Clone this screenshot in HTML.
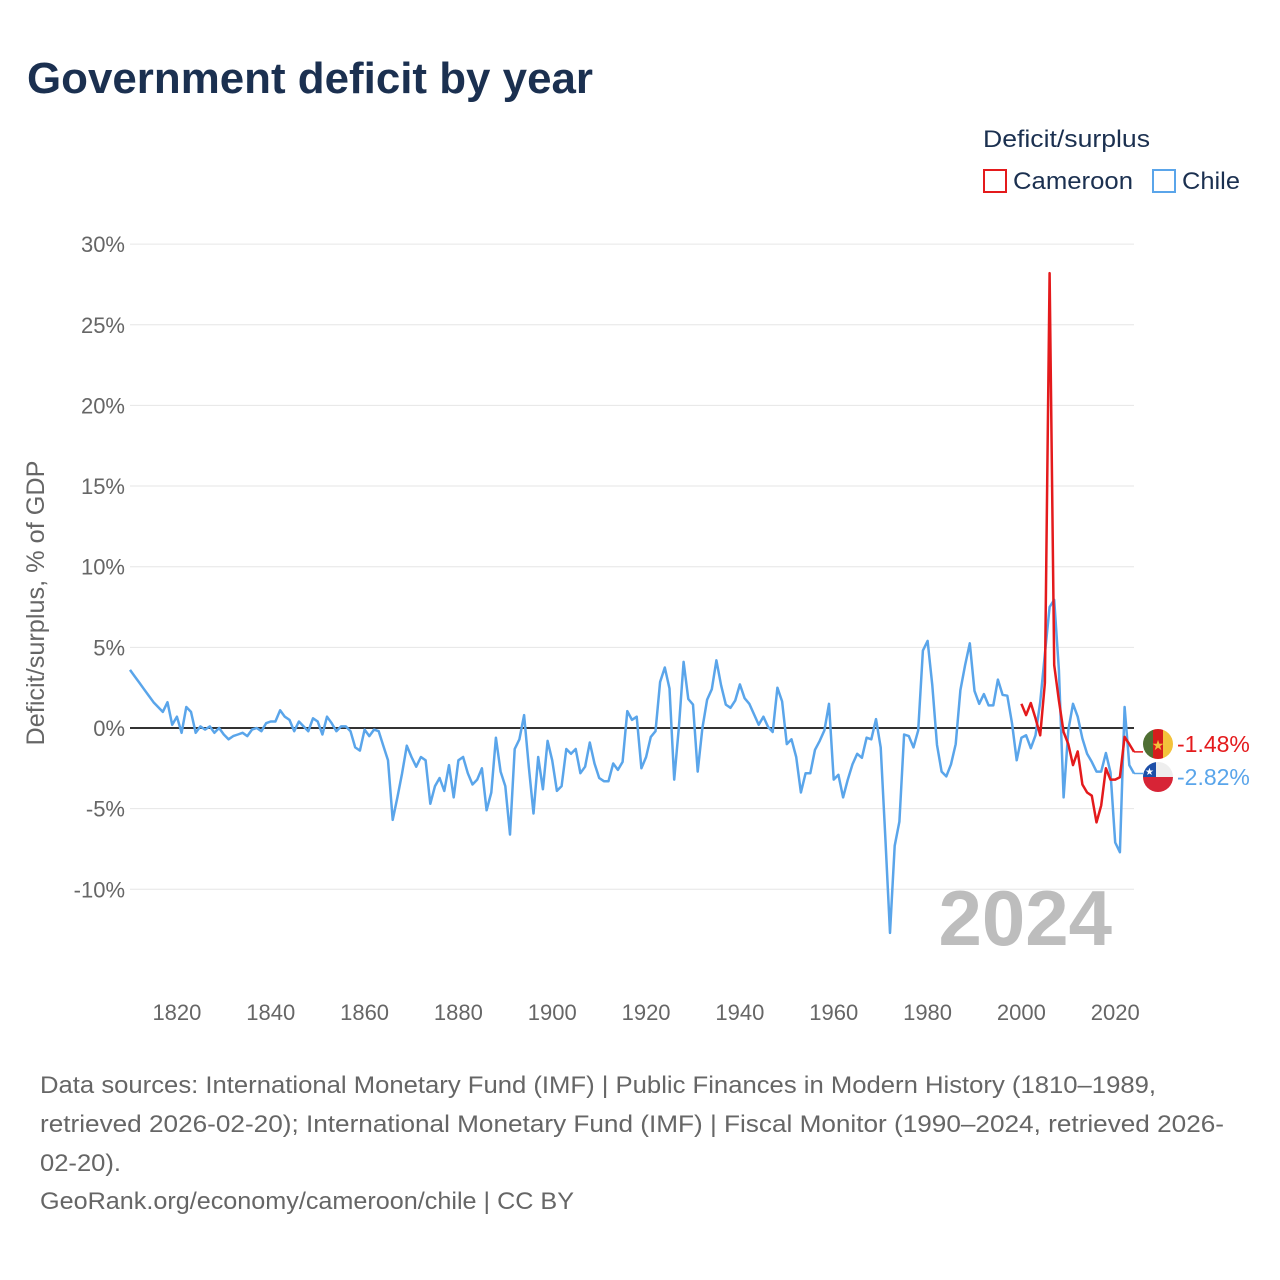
<!DOCTYPE html>
<html><head><meta charset="utf-8"><style>
html,body{margin:0;padding:0;background:#fff;}
svg{display:block;font-family:"Liberation Sans",sans-serif;}
</style></head><body>
<svg id="chart" width="1280" height="1280" viewBox="0 0 1280 1280" xmlns="http://www.w3.org/2000/svg">
<defs>
<clipPath id="c1"><circle cx="1158" cy="744" r="15"/></clipPath>
<clipPath id="c2"><circle cx="1158" cy="777" r="15"/></clipPath>
</defs>
<text x="27" y="93" font-size="44" font-weight="bold" fill="#1b3050" textLength="566" lengthAdjust="spacingAndGlyphs">Government deficit by year</text>
<text x="983" y="147" font-size="24" fill="#1b3050" textLength="167" lengthAdjust="spacingAndGlyphs">Deficit/surplus</text>
<g>
<rect x="984" y="170" width="22" height="22" fill="none" stroke="#e41a1c" stroke-width="2"/>
<text x="1013" y="189" font-size="24" fill="#1b3050" textLength="120" lengthAdjust="spacingAndGlyphs">Cameroon</text>
</g>
<g>
<rect x="1153" y="170" width="22" height="22" fill="none" stroke="#5aa5ea" stroke-width="2"/>
<text x="1182" y="189" font-size="24" fill="#1b3050" textLength="58" lengthAdjust="spacingAndGlyphs">Chile</text>
</g>
<g id="grid"></g>
<g id="yticks"></g>
<g id="xticks"></g>
<text transform="translate(50,603) rotate(-90)" text-anchor="middle" font-size="25" fill="#666" textLength="285" lengthAdjust="spacingAndGlyphs" x="0" y="-6">Deficit/surplus, % of GDP</text>
<text x="1112" y="945" text-anchor="end" font-size="78" font-weight="bold" fill="#bdbdbd">2024</text>
<g id="series"></g>
<g clip-path="url(#c1)">
<rect x="1143" y="729" width="10" height="30" fill="#4f6f33"/>
<rect x="1153" y="729" width="10" height="30" fill="#d71c1c"/>
<rect x="1163" y="729" width="10" height="30" fill="#f3c23b"/>
<text x="1158" y="750" text-anchor="middle" font-size="14" fill="#f3c23b">★</text>
</g>
<g clip-path="url(#c2)">
<rect x="1143" y="762" width="30" height="15" fill="#eee"/>
<rect x="1143" y="762" width="13" height="15" fill="#1d4fa8"/>
<rect x="1143" y="777" width="30" height="15" fill="#d72436"/>
<text x="1149.5" y="775" text-anchor="middle" font-size="10" fill="#fff">★</text>
</g>
<text id="lbl-cm" x="1177" y="752" font-size="23" fill="#e41a1c">-1.48%</text>
<text id="lbl-cl" x="1177" y="785" font-size="23" fill="#5aa5ea">-2.82%</text>
<g font-size="24" fill="#666">
<text x="40" y="1093" textLength="1116" lengthAdjust="spacingAndGlyphs">Data sources: International Monetary Fund (IMF) | Public Finances in Modern History (1810–1989,</text>
<text x="40" y="1132" textLength="1184" lengthAdjust="spacingAndGlyphs">retrieved 2026-02-20); International Monetary Fund (IMF) | Fiscal Monitor (1990–2024, retrieved 2026-</text>
<text x="40" y="1171" textLength="81" lengthAdjust="spacingAndGlyphs">02-20).</text>
<text x="40" y="1209" textLength="534" lengthAdjust="spacingAndGlyphs">GeoRank.org/economy/cameroon/chile | CC BY</text>
</g>
</svg>
<script>
const yTicks = [30, 25, 20, 15, 10, 5, 0, -5, -10];
const xTicks = [1820, 1840, 1860, 1880, 1900, 1920, 1940, 1960, 1980, 2000, 2020];
const chileStart = 1810;
const chileValues = [3.6,3.2,2.8,2.4,2.0,1.6,1.3,1.0,1.6,0.2,0.7,-0.3,1.3,1.0,-0.3,0.1,-0.1,0.1,-0.3,0.0,
-0.4,-0.7,-0.5,-0.4,-0.3,-0.5,-0.1,0.0,-0.2,0.3,0.4,0.4,1.1,0.7,0.5,-0.2,0.4,0.1,-0.2,0.6,
0.4,-0.4,0.7,0.3,-0.2,0.1,0.1,-0.2,-1.2,-1.4,-0.1,-0.5,-0.1,-0.2,-1.1,-2.0,-5.7,-4.3,-2.8,-1.1,
-1.8,-2.4,-1.8,-2.0,-4.7,-3.6,-3.1,-3.9,-2.3,-4.3,-2.0,-1.8,-2.8,-3.5,-3.2,-2.5,-5.1,-4.0,-0.6,-2.7,
-3.6,-6.6,-1.3,-0.7,0.8,-2.4,-5.3,-1.8,-3.8,-0.8,-2.0,-3.9,-3.6,-1.3,-1.6,-1.3,-2.8,-2.4,-0.9,-2.2,
-3.1,-3.3,-3.3,-2.2,-2.6,-2.1,1.05,0.5,0.7,-2.5,-1.8,-0.55,-0.2,2.85,3.75,2.45,-3.2,0.06,4.1,1.8,
1.45,-2.7,0.0,1.75,2.4,4.2,2.65,1.45,1.25,1.7,2.7,1.85,1.5,0.85,0.2,0.7,0.06,-0.25,2.5,1.65,
-1.0,-0.7,-1.8,-4.0,-2.8,-2.8,-1.35,-0.8,-0.15,1.5,-3.2,-2.9,-4.3,-3.2,-2.25,-1.6,-1.85,-0.6,-0.7,0.55,
-1.2,-6.75,-12.7,-7.3,-5.8,-0.4,-0.5,-1.2,-0.15,4.8,5.4,2.65,-1.05,-2.7,-3.0,-2.25,-1.0,2.35,3.9,5.25,
2.3,1.5,2.1,1.4,1.4,3.0,2.05,2.0,0.3,-2.0,-0.6,-0.45,-1.25,-0.45,1.6,4.6,7.5,7.95,3.6,-4.3,
-0.15,1.5,0.7,-0.65,-1.6,-2.1,-2.7,-2.7,-1.55,-2.75,-7.1,-7.7,1.3,-2.3,-2.82];
const cameroonStart = 2000;
const cameroonValues = [1.5,0.8,1.55,0.6,-0.45,2.8,28.2,3.9,1.7,-0.25,-1.0,-2.3,-1.45,-3.5,-4.0,-4.2,-5.85,-4.8,-2.5,-3.2,-3.2,-3.05,-0.55,-1.0,-1.48];

const NS = "http://www.w3.org/2000/svg";
const X0 = 130, X1 = 1134, YR0 = 1810, YR1 = 2024;
const xs = yr => X0 + (yr - YR0) * (X1 - X0) / (YR1 - YR0);
const ys = v => 728 - v * 16.13;
function mk(tag, attrs, parent){ const e=document.createElementNS(NS,tag); for(const k in attrs) e.setAttribute(k,attrs[k]); parent.appendChild(e); return e; }
const grid = document.getElementById('grid'), yg = document.getElementById('yticks'), xg = document.getElementById('xticks'), sg = document.getElementById('series');
yTicks.forEach(t => {
  const l = mk('line',{x1:X0,x2:X1,y1:ys(t),y2:ys(t),stroke:t===0?'#333':'#e6e6e6','stroke-width':t===0?2:1},grid);
  
  
  const tx = mk('text',{x:125,y:ys(t)+8,'text-anchor':'end','font-size':22,fill:'#666'},yg);
  tx.textContent = t + '%';
  
  
});
xTicks.forEach(t => {
  const tx = mk('text',{x:xs(t),y:1020,'text-anchor':'middle','font-size':22,fill:'#666'},xg);
  tx.textContent = t;
  
  
});
function series(start, vals, color, name){
  const pts = vals.map((v,i)=> xs(start+i).toFixed(1)+','+ys(v).toFixed(1)).join(' ');
  const p = mk('polyline',{points:pts,fill:'none',stroke:color,'stroke-width':2.5,'stroke-linejoin':'round'},sg);
  
  
  return p;
}
series(chileStart, chileValues, '#5aa5ea', 'chile-line');
series(cameroonStart, cameroonValues, '#e41a1c', 'cameroon-line');
const cmY = ys(cameroonValues[cameroonValues.length-1]);
const c1 = mk('line',{x1:X1,x2:1143,y1:cmY,y2:cmY,stroke:'#e41a1c','stroke-width':1.5},sg);


const clY = ys(chileValues[chileValues.length-1]);
const c2 = mk('line',{x1:X1,x2:1143,y1:clY,y2:clY,stroke:'#5aa5ea','stroke-width':1.5},sg);


</script>
</body></html>
